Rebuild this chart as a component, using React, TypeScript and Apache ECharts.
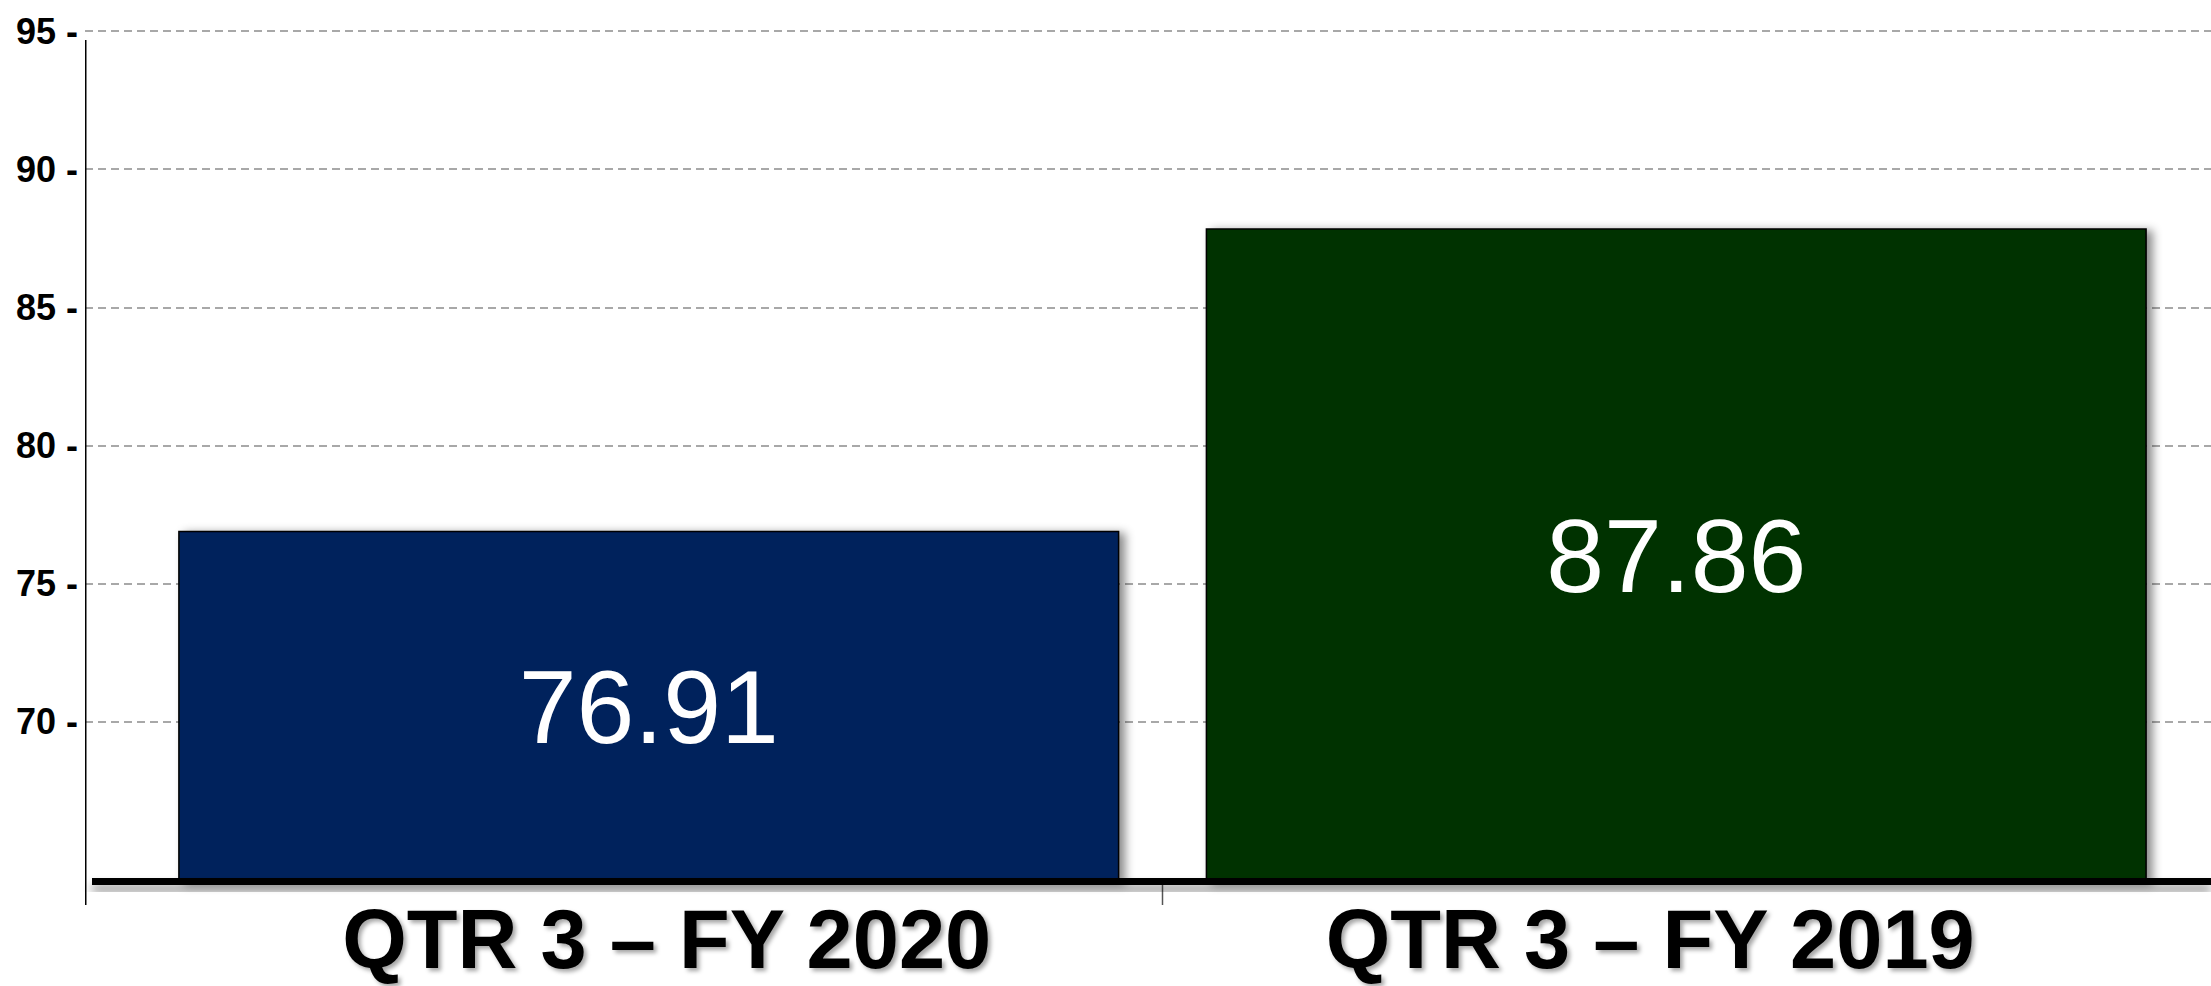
import React, { useEffect, useRef } from "react";
import * as echarts from "echarts";

// ---- data ----
const CATEGORIES = ["QTR 3 – FY 2020", "QTR 3 – FY 2019"];
const VALUES = [76.91, 87.86];
const BAR_COLORS = ["#00205C", "#013300"];
const Y_TICKS = [70, 75, 80, 85, 90, 95];
const Y_MIN = 64.2;
const Y_MAX = 95;

// ---- layout constants ----
const W = 2211;
const H = 986;
const TOP = 31;
const BASE_Y = 882;
const BAR_LEFT = 135;
const BAR_RIGHT = 21;
const AXIS_X = 85;
const X_LABEL_NUDGE = [18, -26];
const FONT = "'Liberation Sans', Arial, Helvetica, sans-serif";

export default function App() {
  const ref = useRef<HTMLDivElement>(null);

  useEffect(() => {
    if (!ref.current) return;
    const chart = echarts.init(ref.current, undefined, { renderer: "svg" });
    const bottom = H - BASE_Y;
    const midX = BAR_LEFT + (W - BAR_LEFT - BAR_RIGHT) / 2;

    chart.setOption({
      animation: false,
      backgroundColor: "#ffffff",
      grid: [
        { left: BAR_LEFT, right: BAR_RIGHT, top: TOP, bottom, containLabel: false },
        { left: AXIS_X, right: 0, top: TOP, bottom, containLabel: false },
      ],
      xAxis: [
        {
          type: "category",
          gridIndex: 0,
          data: CATEGORIES.map((c, i) => {
            const n = X_LABEL_NUDGE[i] || 0;
            return {
              value: c,
              textStyle: {
                padding: n >= 0 ? [0, 0, 0, 2 * n] : [0, -2 * n, 0, 0],
              },
            };
          }),
          axisLine: { show: false },
          axisTick: { show: false },
          axisLabel: {
            margin: 22,
            fontSize: 83,
            lineHeight: 70,
            fontWeight: "bold",
            fontFamily: FONT,
            color: "#000",
            textShadowColor: "rgba(0,0,0,0.35)",
            textShadowBlur: 4,
            textShadowOffsetX: 3,
            textShadowOffsetY: 3,
          },
        },
        { type: "value", gridIndex: 1, show: false, min: 0, max: 1 },
      ],
      yAxis: [
        { type: "value", gridIndex: 0, min: Y_MIN, max: Y_MAX, show: false, splitLine: { show: false } },
        {
          type: "value",
          gridIndex: 1,
          min: Y_MIN,
          max: Y_MAX,
          axisLine: { show: false },
          axisTick: { show: false, customValues: Y_TICKS },
          axisLabel: {
            customValues: Y_TICKS,
            formatter: (v: number) => `${v} -`,
            margin: 7,
            fontSize: 36,
            fontWeight: "bold",
            fontFamily: FONT,
            color: "#000",
          },
          splitLine: {
            show: true,
            lineStyle: { color: "#8c8c8c", width: 1.5, type: [8, 5] },
          },
        },
      ],
      series: [
        {
          type: "bar",
          xAxisIndex: 0,
          yAxisIndex: 0,
          barCategoryGap: "8.4%",
          data: VALUES.map((v, i) => ({ value: v, itemStyle: { color: BAR_COLORS[i] } })),
          itemStyle: {
            borderColor: "#000",
            borderWidth: 1.5,
            shadowBlur: 10,
            shadowOffsetX: 6,
            shadowOffsetY: 2,
            shadowColor: "rgba(0,0,0,0.45)",
          },
          label: {
            show: true,
            position: "inside",
            formatter: (p: any) => Number(p.value).toFixed(2),
            color: "#fff",
            fontSize: 104,
            fontFamily: FONT,
          },
        },
      ],
      graphic: [
        {
          type: "rect",
          z: 50,
          shape: { x: AXIS_X, y: 40, width: 1.5, height: 865 },
          style: { fill: "#000" },
        },
        {
          type: "rect",
          z: 50,
          shape: { x: midX - 0.75, y: 885, width: 1.5, height: 20 },
          style: { fill: "#555" },
        },
        {
          type: "rect",
          z: 100,
          shape: { x: 92, y: BASE_Y - 4, width: W - 92, height: 7 },
          style: {
            fill: "#000",
            shadowBlur: 10,
            shadowOffsetY: 7,
            shadowColor: "rgba(0,0,0,0.45)",
          },
        },
      ],
    });

    return () => chart.dispose();
  }, []);

  return (
    <div
      ref={ref}
      style={{ position: "fixed", left: 0, top: 0, width: W, height: H, background: "#fff" }}
    />
  );
}
